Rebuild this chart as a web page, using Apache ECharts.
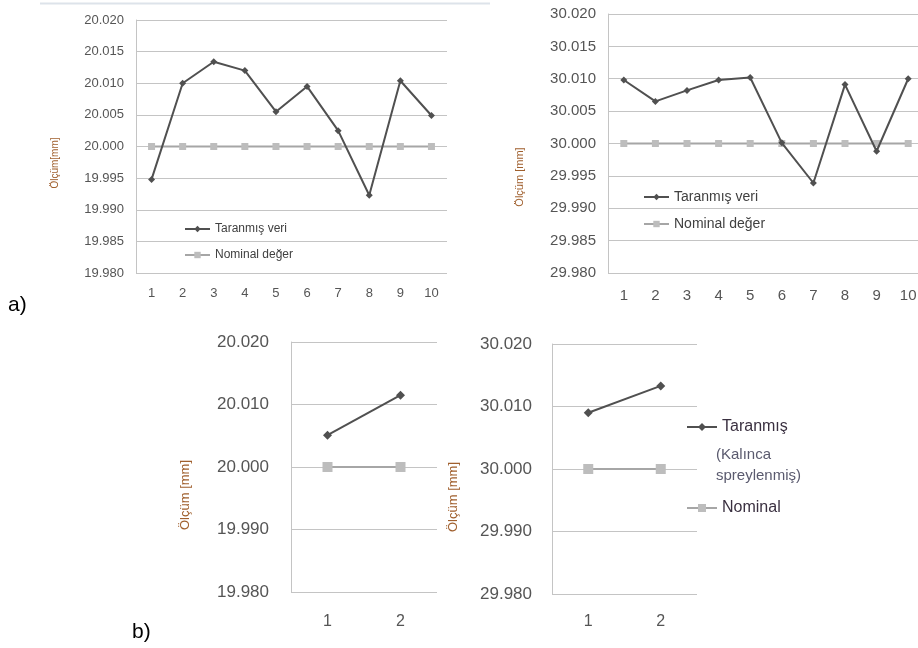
<!DOCTYPE html>
<html>
<head>
<meta charset="utf-8">
<script src="https://cdn.jsdelivr.net/npm/echarts@6/dist/echarts.min.js"></script>
<style>html,body{margin:0;padding:0;background:#fff;overflow:hidden}#c{width:930px;height:648px}</style>
</head>
<body>
<div id="c"></div>
<script>
// ---- data ----
const catsA = ['1','2','3','4','5','6','7','8','9','10'];
const catsB = ['1','2'];
const scan20A = [19.9948, 20.0100, 20.0134, 20.0120, 20.0055, 20.0095, 20.0025, 19.9923, 20.0104, 20.0049];
const nom20A  = [20.000, 20.000, 20.000, 20.000, 20.000, 20.000, 20.000, 20.000, 20.000, 20.000];
const scan30A = [30.0098, 30.0065, 30.0082, 30.0098, 30.0102, 30.0001, 29.9939, 30.0091, 29.9988, 30.0100];
const nom30A  = [30.000, 30.000, 30.000, 30.000, 30.000, 30.000, 30.000, 30.000, 30.000, 30.000];
const scan20B = [20.0051, 20.0115];
const nom20B  = [20.000, 20.000];
const scan30B = [30.0090, 30.0133];
const nom30B  = [30.000, 30.000];
const yTicks20A = [19.980, 20.020, 0.005];
const yTicks30A = [29.980, 30.020, 0.005];
const yTicks20B = [19.980, 20.020, 0.010];
const yTicks30B = [29.980, 30.020, 0.010];

const FONT = 'Liberation Sans';
const DARK = '#505050', LIGHT = '#a6a6a6', LIGHTM = '#bdbdbd', GRID = '#c4c4c4', TXT = '#555555', NAMEC = '#a0602e';

const chart = echarts.init(document.getElementById('c'), null, {renderer: 'canvas'});

function xAx(idx, cats, fs, margin) {
  return {type: 'category', gridIndex: idx, data: cats, boundaryGap: true,
    axisLine: {show: false}, axisTick: {show: false},
    axisLabel: {color: TXT, fontSize: fs, fontFamily: FONT, margin: margin}};
}
function yAx(idx, t, fs, margin) {
  return {type: 'value', gridIndex: idx, min: t[0], max: t[1], interval: t[2],
    axisLine: {show: true, lineStyle: {color: GRID, width: 1}}, axisTick: {show: false},
    splitLine: {show: true, lineStyle: {color: GRID, width: 1}},
    axisLabel: {color: TXT, fontSize: fs, fontFamily: FONT, margin: margin, formatter: v => v.toFixed(3)}};
}
function scanS(name, idx, data, sz) {
  return {name: name, type: 'line', xAxisIndex: idx, yAxisIndex: idx, data: data,
    symbol: 'diamond', symbolSize: sz, showSymbol: true,
    lineStyle: {color: DARK, width: 2}, itemStyle: {color: DARK}, z: 3, animation: false};
}
function nomS(name, idx, data, sz) {
  return {name: name, type: 'line', xAxisIndex: idx, yAxisIndex: idx, data: data,
    symbol: 'rect', symbolSize: sz, showSymbol: true,
    lineStyle: {color: LIGHT, width: 2}, itemStyle: {color: LIGHTM}, z: 2, animation: false};
}
function yName(x, y, text, fs) {
  return {type: 'text', x: x, y: y, rotation: Math.PI / 2,
    style: {text: text, fill: NAMEC, font: fs + 'px ' + FONT, textAlign: 'center', textVerticalAlign: 'middle'}};
}

const option = {
  backgroundColor: '#fff',
  animation: false,
  grid: [
    {left: 136, top: 20, width: 311, height: 253},
    {left: 608, top: 14, width: 316, height: 259},
    {left: 291, top: 342, width: 146, height: 250},
    {left: 552, top: 344, width: 145, height: 250}
  ],
  xAxis: [xAx(0, catsA, 13, 14), xAx(1, catsA, 15, 15), xAx(2, catsB, 16, 22), xAx(3, catsB, 16, 20)],
  yAxis: [yAx(0, yTicks20A, 13, 12), yAx(1, yTicks30A, 15, 12), yAx(2, yTicks20B, 17, 22), yAx(3, yTicks30B, 17, 20)],
  legend: [
    {orient: 'vertical', left: 184, top: 223, padding: 0, itemWidth: 25, itemHeight: 8, itemGap: 14,
      textStyle: {color: '#404040', fontSize: 12, fontFamily: FONT},
      data: ['Taranmış veri', 'Nominal değer']},
    {orient: 'vertical', left: 643, top: 190, padding: 0, itemWidth: 25, itemHeight: 8, itemGap: 13,
      textStyle: {color: '#404040', fontSize: 14, fontFamily: FONT},
      data: ['Taranmış veri ', 'Nominal değer ']},
    {orient: 'vertical', left: 686, top: 419, padding: 0, itemWidth: 30, itemHeight: 10, itemGap: 65,
      textStyle: {color: '#3a3040', fontSize: 16, fontFamily: FONT},
      data: ['Taranmış', 'Nominal']}
  ],
  series: [
    scanS('Taranmış veri', 0, scan20A, 7), nomS('Nominal değer', 0, nom20A, 7),
    scanS('Taranmış veri ', 1, scan30A, 7), nomS('Nominal değer ', 1, nom30A, 7),
    scanS('Taranmış', 2, scan20B, 9), nomS('Nominal', 2, nom20B, 10),
    scanS('Taranmış', 3, scan30B, 9), nomS('Nominal', 3, nom30B, 10)
  ],
  graphic: [
    {type: 'line', shape: {x1: 40, y1: 3.5, x2: 490, y2: 3.5}, style: {stroke: '#dde3ea', lineWidth: 2}},
    yName(55, 163, 'Ölçüm[mm]', 10),
    yName(520, 177, 'Ölçüm [mm]', 11),
    yName(185, 495, 'Ölçüm [mm]', 13),
    yName(453, 497, 'Ölçüm [mm]', 13),
    {type: 'text', x: 716, y: 444, style: {text: '(Kalınca\nspreylenmiş)', fill: '#5a5a6e', font: '15px ' + FONT, lineHeight: 21}},
    {type: 'text', x: 8, y: 305, style: {text: 'a)', fill: '#000', font: '21px Liberation Sans', textVerticalAlign: 'middle'}},
    {type: 'text', x: 132, y: 632, style: {text: 'b)', fill: '#000', font: '21px Liberation Sans', textVerticalAlign: 'middle'}}
  ]
};
chart.setOption(option);
</script>
</body>
</html>
